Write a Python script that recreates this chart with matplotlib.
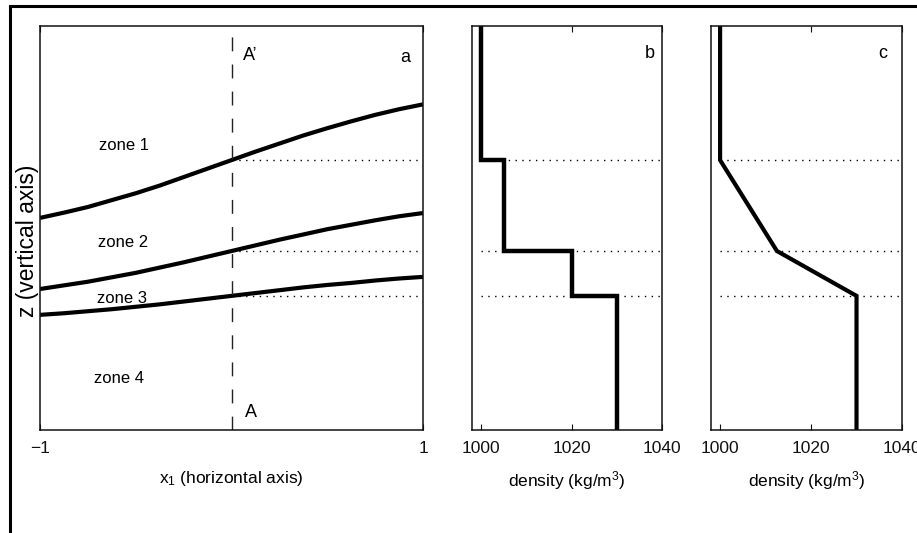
import numpy as np
import matplotlib
matplotlib.use("Agg")
import matplotlib.pyplot as plt
from matplotlib.lines import Line2D

# ---------------- data ----------------
x_pos = [-1.0, -0.875, -0.75, -0.625, -0.5, -0.375, -0.25, -0.125, 0.0,
         0.125, 0.25, 0.375, 0.5, 0.625, 0.75, 0.875, 1.0]
interface1 = [0.525, 0.538, 0.552, 0.569, 0.586, 0.605, 0.626, 0.647, 0.668,
              0.689, 0.709, 0.729, 0.747, 0.764, 0.780, 0.794, 0.806]
interface2 = [0.349, 0.358, 0.367, 0.378, 0.389, 0.402, 0.415, 0.429, 0.443,
              0.457, 0.471, 0.484, 0.497, 0.508, 0.519, 0.529, 0.537]
interface3 = [0.285, 0.289, 0.294, 0.299, 0.305, 0.311, 0.318, 0.325, 0.332,
              0.339, 0.346, 0.353, 0.359, 0.364, 0.370, 0.375, 0.379]
section_x = 0.0                      # position of cross-section A-A'
z_interfaces = [0.668, 0.443, 0.332]  # interface heights at A-A'
zone_names = ["zone 1", "zone 2", "zone 3", "zone 4"]

layer_density = [1000, 1005, 1020, 1030]          # panel b (zones 1..4)
grad_z = [1.0, 0.668, 0.443, 0.332, 0.0]          # panel c profile
grad_density = [1000, 1000, 1012.5, 1030, 1030]

a_xticks = [-1, 1]
a_xticklabels = ["\u22121", "1"]
rho_ticks = [1000, 1020, 1040]
rho_ticklabels = ["1000", "1020", "1040"]

# ---------------- style ----------------
plt.rcParams['lines.scale_dashes'] = False
plt.rcParams['mathtext.fontset'] = 'custom'
plt.rcParams['mathtext.rm'] = 'Liberation Sans'
plt.rcParams['mathtext.it'] = 'Liberation Sans'
plt.rcParams['font.family'] = ['Liberation Sans', 'DejaVu Sans']

W, H = 917, 533
fig = plt.figure(figsize=(W / 100, H / 100), dpi=100)


def px_axes(l, r, t, b):
    return [l / W, 1 - b / H, (r - l) / W, (b - t) / H]


ax_a = fig.add_axes(px_axes(40, 423, 26, 430))
ax_b = fig.add_axes(px_axes(472, 662, 26, 430))
ax_c = fig.add_axes(px_axes(711, 902, 26, 430))

DOT = (0, (1.0, 3.9))
DASH = (0, (10, 9.5))
FS_TICK = 12.5
FS_LAB = 12.5
FS_TXT = 12

for ax in (ax_a, ax_b, ax_c):
    for s in ax.spines.values():
        s.set_linewidth(1.1)
        s.set_color('#111111')
    ax.set_ylim(0, 1)
    ax.set_yticks([])
    ax.tick_params(axis='x', direction='in', top=True, bottom=True,
                   length=4, width=0.8, pad=8, labelsize=FS_TICK,
                   colors='#111111')

# ---- panel a ----
ax_a.set_xlim(-1, 1)
for z in (interface1, interface2, interface3):
    ax_a.plot(x_pos, z, color='black', lw=3.0, solid_capstyle='butt',
              solid_joinstyle='round')
ax_a.plot([section_x, section_x], [0, 1], color='#222222', lw=1.0,
          linestyle=DASH)
for z in z_interfaces:
    ax_a.plot([section_x, 1], [z, z], color='black', lw=1.0, linestyle=DOT)
ax_a.set_xticks(a_xticks)
ax_a.set_xticklabels(a_xticklabels)
ax_a.set_xlabel("$\\mathregular{x_1}$ (horizontal axis)", fontsize=FS_LAB)
ax_a.xaxis.set_label_coords(0.5, -0.097)

zone_pos = [(-0.692, 0.693), (-0.697, 0.453), (-0.702, 0.314), (-0.718, 0.116)]
for name, (xx, zz) in zip(zone_names, zone_pos):
    ax_a.text(xx, zz, name, fontsize=FS_TXT, va='baseline', ha='left')
ax_a.text(0.06, 0.916, "A\u2019", fontsize=FS_TXT + 1, va='baseline', ha='left')
ax_a.text(0.07, 0.032, "A", fontsize=FS_TXT + 1, va='baseline', ha='left')
ax_a.text(0.88, 0.911, "a", fontsize=FS_TXT + 1, va='baseline', ha='left')

# ---- panel b ----
zb = [1.0] + [z for z in z_interfaces for _ in range(2)] + [0.0]
rb = [d for d in layer_density for _ in range(2)]
ax_b.set_xlim(998, 1040)
for z in z_interfaces:
    ax_b.plot([1000, 1040], [z, z], color='black', lw=1.0, linestyle=DOT)
ax_b.plot(rb, zb, color='black', lw=3.2, solid_joinstyle='miter')
ax_b.set_xticks(rho_ticks)
ax_b.set_xticklabels(rho_ticklabels)
ax_b.set_xlabel("density (kg/m$\\mathregular{^3}$)", fontsize=FS_LAB)
ax_b.xaxis.set_label_coords(0.5, -0.097)
ax_b.text(1036.2, 0.921, "b", fontsize=FS_TXT + 1, va='baseline', ha='left')

# ---- panel c ----
ax_c.set_xlim(998, 1040)
for z in z_interfaces:
    ax_c.plot([1000, 1040], [z, z], color='black', lw=1.0, linestyle=DOT)
ax_c.plot(grad_density, grad_z, color='black', lw=3.0, solid_joinstyle='miter')
ax_c.set_xticks(rho_ticks)
ax_c.set_xticklabels(rho_ticklabels)
ax_c.set_xlabel("density (kg/m$\\mathregular{^3}$)", fontsize=FS_LAB)
ax_c.xaxis.set_label_coords(0.5, -0.097)
ax_c.text(1034.7, 0.921, "c", fontsize=FS_TXT + 1, va='baseline', ha='left')

# ---- y label & outer frame ----
fig.text(27.5 / W, 1 - 241 / H, "z (vertical axis)", rotation=90,
         ha='center', va='center', fontsize=16.5,
         family=['Liberation Sans', 'DejaVu Sans'])
fig.add_artist(Line2D([9.5 / W, 9.5 / W], [0, 1 - 5.5 / H], color='black',
                      lw=2.2, transform=fig.transFigure))
fig.add_artist(Line2D([9.5 / W, 1], [1 - 5.5 / H, 1 - 5.5 / H], color='black',
                      lw=2.2, transform=fig.transFigure, solid_capstyle='projecting'))

fig.savefig("out.png", dpi=100)
